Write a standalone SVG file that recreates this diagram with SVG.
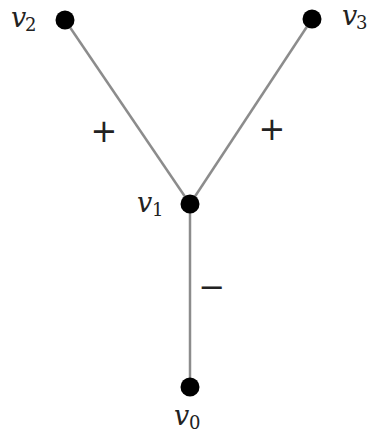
<svg xmlns="http://www.w3.org/2000/svg" width="368" height="435" viewBox="0 0 368 435">
<style>
.e{stroke:#8c8c8c;stroke-width:2.5;fill:none}
.n{fill:#000}
.l{font-family:"DejaVu Serif",serif;font-style:italic;font-size:27px;fill:#222}
.s{font-family:"DejaVu Serif",serif;font-size:18px;fill:#222}
.sg{font-family:"DejaVu Sans",sans-serif;font-size:32px;fill:#222}
</style>
<rect width="368" height="435" fill="#fff"/>
<g id="edges">
<line class="e" x1="65" y1="20" x2="190" y2="204"/>
<line class="e" x1="312" y1="19" x2="190" y2="204"/>
<line class="e" x1="190" y1="204" x2="190" y2="387"/>
<text class="sg" x="104" y="142" text-anchor="middle">+</text>
<text class="sg" x="272" y="140" text-anchor="middle">+</text>
<text class="sg" x="212" y="298" text-anchor="middle">−</text>
</g>
<g id="v2"><circle class="n" cx="65" cy="20" r="9.5"/><text class="l" x="11" y="27">v</text><text class="s" x="25" y="31">2</text></g>
<g id="v3"><circle class="n" cx="312" cy="19" r="9.5"/><text class="l" x="342" y="25">v</text><text class="s" x="356" y="29">3</text></g>
<g id="v1"><circle class="n" cx="190" cy="204" r="9.5"/><text class="l" x="137" y="212">v</text><text class="s" x="152" y="216">1</text></g>
<g id="v0"><circle class="n" cx="190" cy="387" r="9.5"/><text class="l" x="174" y="425">v</text><text class="s" x="189" y="429">0</text></g>
</svg>
